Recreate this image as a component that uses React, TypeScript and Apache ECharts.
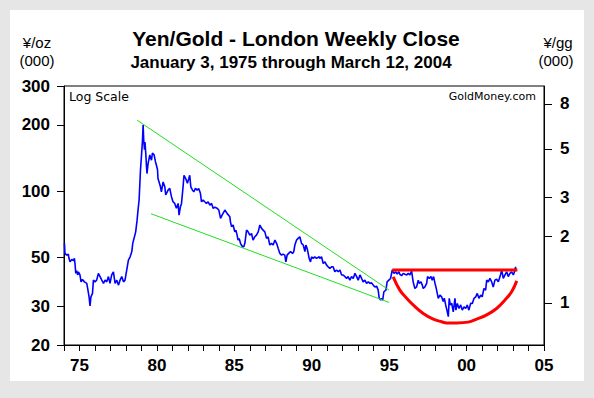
import React, { useEffect, useRef } from "react";
import * as echarts from "echarts";

// Yen price of gold, thousand yen per troy ounce (London weekly close)
const dates: number[] = [
  1975.03, 1975.06, 1975.17, 1975.28, 1975.32, 1975.39, 1975.5, 1975.61, 1975.67, 1975.71,
  1975.76, 1975.82, 1975.89, 1975.93, 1976.03, 1976.1, 1976.19, 1976.32, 1976.47, 1976.53,
  1976.62, 1976.68, 1976.74, 1976.84, 1976.9, 1977.0, 1977.11, 1977.22, 1977.33, 1977.44,
  1977.55, 1977.65, 1977.76, 1977.87, 1977.97, 1978.08, 1978.19, 1978.3, 1978.41, 1978.52,
  1978.62, 1978.73, 1978.84, 1978.94, 1979.05, 1979.16, 1979.27, 1979.38, 1979.44, 1979.55,
  1979.63, 1979.72, 1979.78, 1979.85, 1979.89, 1979.94, 1980.0, 1980.07, 1980.11, 1980.15,
  1980.2, 1980.23, 1980.28, 1980.33, 1980.36, 1980.43, 1980.54, 1980.65, 1980.71, 1980.82,
  1980.91, 1980.97, 1981.04, 1981.07, 1981.14, 1981.23, 1981.29, 1981.4, 1981.51, 1981.57,
  1981.72, 1981.83, 1981.94, 1982.04, 1982.15, 1982.26, 1982.37, 1982.43, 1982.52, 1982.59,
  1982.69, 1982.75, 1982.86, 1982.97, 1983.06, 1983.12, 1983.19, 1983.3, 1983.38, 1983.49,
  1983.6, 1983.7, 1983.81, 1983.88, 1983.98, 1984.09, 1984.2, 1984.31, 1984.42, 1984.53,
  1984.63, 1984.74, 1984.89, 1985.0, 1985.11, 1985.21, 1985.39, 1985.53, 1985.71, 1985.75,
  1985.82, 1985.92, 1986.03, 1986.1, 1986.18, 1986.24, 1986.31, 1986.4, 1986.46, 1986.53,
  1986.61, 1986.68, 1986.79, 1986.89, 1987.0, 1987.11, 1987.21, 1987.32, 1987.43, 1987.54,
  1987.65, 1987.76, 1987.86, 1987.97, 1988.08, 1988.18, 1988.29, 1988.4, 1988.51, 1988.62,
  1988.73, 1988.83, 1988.94, 1989.05, 1989.15, 1989.26, 1989.33, 1989.41, 1989.54, 1989.63,
  1989.76, 1989.84, 1989.91, 1990.02, 1990.12, 1990.23, 1990.34, 1990.45, 1990.56, 1990.62,
  1990.7, 1990.77, 1990.83, 1990.92, 1990.99, 1991.09, 1991.2, 1991.31, 1991.48, 1991.52,
  1991.63, 1991.74, 1991.85, 1991.96, 1992.06, 1992.17, 1992.28, 1992.38, 1992.49, 1992.6,
  1992.71, 1992.82, 1992.93, 1993.03, 1993.14, 1993.25, 1993.35, 1993.46, 1993.57, 1993.68,
  1993.79, 1993.9, 1994.0, 1994.11, 1994.22, 1994.32, 1994.43, 1994.54, 1994.65, 1994.76,
  1994.87, 1994.97, 1995.08, 1995.19, 1995.29, 1995.36, 1995.45, 1995.51, 1995.58, 1995.66,
  1995.79, 1995.87, 1995.98, 1996.09, 1996.2, 1996.31, 1996.42, 1996.52, 1996.63, 1996.69,
  1996.8, 1996.91, 1997.02, 1997.13, 1997.23, 1997.34, 1997.45, 1997.55, 1997.66, 1997.77,
  1997.88, 1997.94, 1998.05, 1998.14, 1998.2, 1998.31, 1998.42, 1998.48, 1998.59, 1998.7,
  1998.78, 1998.87, 1998.96, 1999.02, 1999.13, 1999.17, 1999.28, 1999.39, 1999.49, 1999.56,
  1999.65, 1999.73, 1999.82, 1999.88, 1999.95, 2000.04, 2000.14, 2000.25, 2000.31, 2000.4,
  2000.51, 2000.62, 2000.72, 2000.83, 2000.94, 2001.04, 2001.15, 2001.26, 2001.37, 2001.48,
  2001.59, 2001.69, 2001.8, 2001.91, 2002.01, 2002.12, 2002.23, 2002.3, 2002.4, 2002.51,
  2002.62, 2002.72, 2002.83, 2002.94, 2003.05, 2003.16, 2003.27, 2003.37, 2003.48, 2003.59,
  2003.69, 2003.8, 2003.91, 2004.02, 2004.13, 2004.16, 2004.19,
];

const yenPerOz: number[] = [
  57.9, 52.2, 51.2, 51.7, 49.5, 47.7, 48.9, 48.3, 49.5, 46.9,
  42.3, 43.5, 41.6, 43.0, 41.6, 38.7, 39.7, 38.7, 38.1, 36.1,
  33.1, 30.1, 33.1, 34.3, 39.4, 38.7, 39.4, 42.3, 40.9, 39.4,
  38.1, 39.4, 38.7, 40.9, 38.1, 41.6, 43.0, 38.1, 39.4, 37.4,
  39.4, 40.9, 38.7, 39.4, 43.8, 48.6, 50.3, 53.1, 57.9, 62.0,
  65.3, 73.8, 82.0, 91.0, 104.6, 125, 143.4, 170, 199.5, 170,
  154, 167, 148.8, 128.7, 120.1, 133.3, 146, 138, 148.8, 146,
  135.6, 131, 125, 114, 110, 104.6, 99.2, 110, 104.6, 96,
  101, 102.8, 94.3, 89.4, 87.9, 83.5, 87.9, 77.8, 84.9, 87.9,
  104.6, 118, 114, 108.4, 114, 118, 104.6, 101, 99.2, 102.8,
  101, 102.8, 97.7, 89.4, 91, 89.4, 87.9, 89.4, 86.4, 87.9,
  83.5, 84.4, 83.5, 82, 75.2, 77.8, 82, 79.2, 76.4, 72.5,
  68.9, 70.1, 65.3, 66.5, 63.1, 59.9, 61.0, 57.9, 56.9, 55.9,
  55.9, 57.9, 66.5, 65.3, 63.1, 64.2, 59.9, 62.0, 63.1, 65.3,
  70.1, 67.7, 66.5, 65.3, 61.0, 62.0, 56.9, 57.9, 56.9, 59.9,
  57.9, 55.0, 52.1, 51.2, 51.7, 51.2, 47.7, 51.2, 52.4, 53.1,
  52.1, 53.1, 56.9, 59.9, 61.0, 62.0, 57.9, 56.9, 53.1, 56.9,
  55.0, 52.1, 49.5, 47.7, 50.3, 49.5, 50.3, 49.5, 50.3, 49.5,
  50.3, 46.9, 47.7, 46.1, 45.3, 44.6, 45.3, 45.3, 43.0, 43.8,
  43.0, 43.8, 41.6, 41.6, 40.9, 40.1, 40.9, 39.4, 40.9, 40.1,
  42.3, 40.9, 39.4, 41.6, 40.1, 38.7, 39.4, 38.1, 38.7, 38.1,
  38.3, 37.4, 36.7, 37.0, 35.5, 32.6, 32.0, 32.6, 32.0, 34.9,
  35.5, 38.7, 39.4, 40.1, 43.8, 42.3, 43.0, 42.0, 43.0, 41.9,
  41.3, 42.3, 41.9, 41.6, 42.3, 41.6, 43.3, 38.7, 36.1, 36.7,
  39.4, 38.1, 38.7, 37.4, 36.1, 36.7, 38.1, 40.9, 40.1, 40.9,
  39.4, 40.9, 38.1, 36.7, 33.7, 32.6, 33.7, 33.1, 31.5, 32.6,
  30.4, 28.8, 26.9, 32.6, 30.4, 30.9, 28.3, 32.6, 28.8, 30.9,
  29.3, 30.4, 28.8, 29.8, 29.3, 30.4, 28.8, 30.9, 30.9, 32.6,
  33.1, 34.3, 32.6, 33.7, 33.1, 36.1, 35.5, 39.4, 38.7, 40.1,
  38.7, 36.7, 39.4, 39.8, 38.7, 40.9, 43.8, 40.1, 41.6, 43.0,
  40.9, 42.3, 43.0, 41.6, 43.8, 45.3, 43.3,
];

// Trend lines drawn on the chart (year, thousand yen/oz)
const upperTrendYears = [1979.72, 1996.0];
const upperTrendValues = [210, 35.5];
const lowerTrendYears = [1980.62, 1996.0];
const lowerTrendValues = [78.9, 31.2];
const resistanceYears = [1996.2, 2004.28];
const resistanceValues = [43.8, 43.8];
const bowlYears = [
  1996.26, 1996.69, 1997.13, 1997.55, 1998.2, 1998.85, 1999.39, 1999.71,
  2000.36, 2001.11, 2001.65, 2002.3, 2002.94, 2003.48, 2003.91, 2004.24,
];
const bowlValues = [
  40.8, 35.5, 32.6, 30.4, 27.8, 26.2, 25.5, 25.2,
  25.2, 25.4, 26.2, 27.4, 29.3, 32.0, 34.9, 39.1,
];

// Axes
const GRAMS_PER_OZ = 31.1035;
const leftTicks = [20, 30, 50, 100, 200, 300];
const rightTicks = [1, 2, 3, 5, 8];
const xTickYears = Array.from({ length: 32 }, (_, i) => 1975 + i);
const xLabelYears = [1976, 1981, 1986, 1991, 1996, 2001, 2006];
const xLabels = ["75", "80", "85", "90", "95", "00", "05"];

const zip = (xs: number[], ys: number[]) => xs.map((x, i) => [x, ys[i]]);

const FONT = '"Liberation Sans", Arial, sans-serif';

export default function App() {
  const ref = useRef<HTMLDivElement>(null);

  useEffect(() => {
    if (!ref.current) return;
    const chart = echarts.init(ref.current, undefined, { renderer: "svg" });
    const axisLabelStyle = {
      color: "#000",
      fontFamily: FONT,
      fontWeight: "bold" as const,
      fontSize: 17,
    };
    chart.setOption({
      animation: false,
      backgroundColor: "transparent",
      grid: {
        left: 64,
        top: 86,
        width: 480,
        height: 259,
        show: true,
        borderColor: "#000",
        borderWidth: 1,
        backgroundColor: "#fff",
      },
      xAxis: {
        type: "value",
        min: 1975,
        max: 2006,
        interval: 1,
        splitLine: { show: false },
        axisLine: { show: true, onZero: false, lineStyle: { color: "#000", width: 1 } },
        axisTick: {
          show: true,
          length: 6,
          customValues: xTickYears,
          lineStyle: { color: "#000" },
        },
        axisLabel: {
          ...axisLabelStyle,
          margin: 12,
          customValues: xLabelYears,
          formatter: (v: number) => {
            const i = xLabelYears.indexOf(Math.round(v));
            return i >= 0 ? xLabels[i] : "";
          },
        },
      },
      yAxis: [
        {
          type: "log",
          logBase: 10,
          min: 20,
          max: 300,
          position: "left",
          splitLine: { show: false },
          axisLine: { show: true, lineStyle: { color: "#000" } },
          axisTick: { show: true, length: 7, customValues: leftTicks, lineStyle: { color: "#000" } },
          axisLabel: {
            ...axisLabelStyle,
            margin: 14,
            customValues: leftTicks,
            formatter: (v: number) => String(Math.round(v)),
          },
        },
        {
          type: "log",
          logBase: 10,
          min: 20 / GRAMS_PER_OZ,
          max: 300 / GRAMS_PER_OZ,
          position: "right",
          splitLine: { show: false },
          axisLine: { show: true, lineStyle: { color: "#000" } },
          axisTick: { show: true, length: 8, customValues: rightTicks, lineStyle: { color: "#000" } },
          axisLabel: {
            ...axisLabelStyle,
            margin: 16,
            customValues: rightTicks,
            formatter: (v: number) => String(Math.round(v)),
          },
        },
      ],
      series: [
        {
          name: "Yen/Gold",
          type: "line",
          data: zip(dates, yenPerOz),
          showSymbol: false,
          symbol: "none",
          lineStyle: { color: "#0000ff", width: 1.6 },
          z: 2,
        },
        {
          name: "Upper trend",
          type: "line",
          data: zip(upperTrendYears, upperTrendValues),
          symbol: "none",
          lineStyle: { color: "#22dd22", width: 1 },
          z: 3,
        },
        {
          name: "Lower trend",
          type: "line",
          data: zip(lowerTrendYears, lowerTrendValues),
          symbol: "none",
          lineStyle: { color: "#22dd22", width: 1 },
          z: 3,
        },
        {
          name: "Resistance",
          type: "line",
          data: zip(resistanceYears, resistanceValues),
          symbol: "none",
          lineStyle: { color: "#ff0000", width: 3 },
          z: 4,
        },
        {
          name: "Bowl",
          type: "line",
          data: zip(bowlYears, bowlValues),
          symbol: "none",
          smooth: 0.4,
          lineStyle: { color: "#ff0000", width: 3 },
          z: 4,
        },
      ],
      graphic: [
        {
          type: "text",
          x: 296,
          y: 38,
          style: {
            text: "Yen/Gold - London Weekly Close",
            font: `bold 21px ${FONT}`,
            fill: "#000",
            textAlign: "center",
            textVerticalAlign: "middle",
          },
        },
        {
          type: "text",
          x: 291,
          y: 62,
          style: {
            text: "January 3, 1975 through March 12, 2004",
            font: `bold 17px ${FONT}`,
            fill: "#000",
            textAlign: "center",
            textVerticalAlign: "middle",
          },
        },
        {
          type: "text",
          x: 37,
          y: 42,
          style: {
            text: "¥/oz",
            font: `15px ${FONT}`,
            fill: "#000",
            textAlign: "center",
            textVerticalAlign: "middle",
          },
        },
        {
          type: "text",
          x: 37,
          y: 60,
          style: {
            text: "(000)",
            font: `15px ${FONT}`,
            fill: "#000",
            textAlign: "center",
            textVerticalAlign: "middle",
          },
        },
        {
          type: "text",
          x: 558,
          y: 42,
          style: {
            text: "¥/gg",
            font: `15px ${FONT}`,
            fill: "#000",
            textAlign: "center",
            textVerticalAlign: "middle",
          },
        },
        {
          type: "text",
          x: 556,
          y: 60,
          style: {
            text: "(000)",
            font: `15px ${FONT}`,
            fill: "#000",
            textAlign: "center",
            textVerticalAlign: "middle",
          },
        },
        {
          type: "text",
          x: 69,
          y: 96,
          style: {
            text: "Log Scale",
            font: `12.5px "DejaVu Sans", sans-serif`,
            fill: "#000",
            textAlign: "left",
            textVerticalAlign: "middle",
          },
        },
        {
          type: "text",
          x: 536,
          y: 96,
          style: {
            text: "GoldMoney.com",
            font: `11px "DejaVu Sans", sans-serif`,
            fill: "#000",
            textAlign: "right",
            textVerticalAlign: "middle",
          },
        },
      ],
    });
    return () => chart.dispose();
  }, []);

  return (
    <div
      style={{
        position: "absolute",
        left: 0,
        top: 0,
        width: 594,
        height: 398,
        background: "#e6e6e6",
      }}
    >
      <div
        style={{
          position: "absolute",
          left: 10,
          top: 10,
          width: 574,
          height: 371,
          background: "#fff",
        }}
      />
      <div
        ref={ref}
        style={{ position: "absolute", left: 0, top: 0, width: 594, height: 398 }}
      />
    </div>
  );
}
